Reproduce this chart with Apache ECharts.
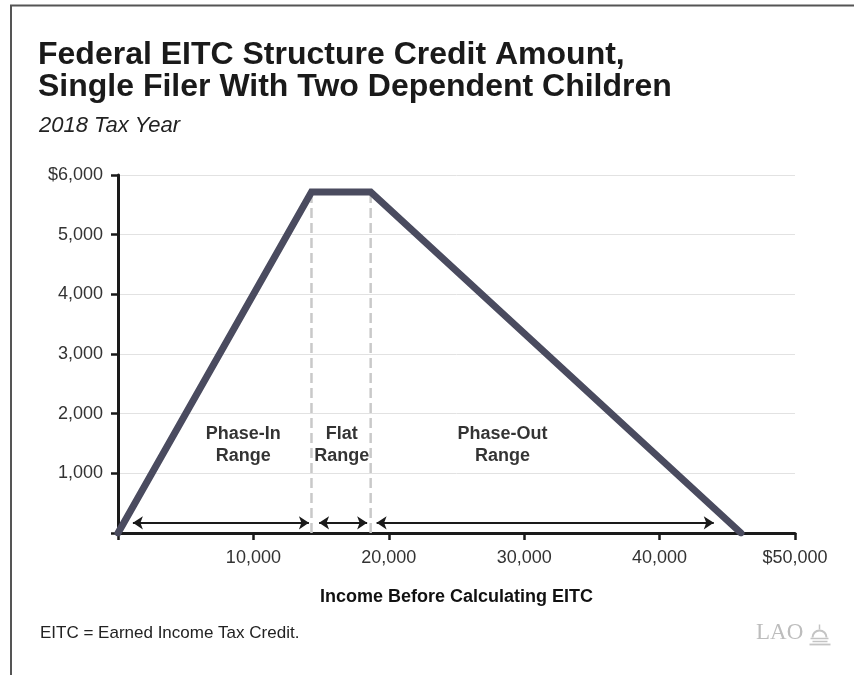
<!DOCTYPE html>
<html>
<head>
<meta charset="utf-8">
<script src="https://cdn.jsdelivr.net/npm/echarts@6/dist/echarts.min.js"></script>
<style>
  html, body { margin: 0; padding: 0; background: #fff; }
  #chart { width: 854px; height: 675px; }
</style>
</head>
<body>
<div id="chart"></div>
<script>
// EITC schedule, single filer with two children, 2018
const incomePoints = [0, 14290, 18660, 46010];
const creditPoints = [0, 5716, 5716, 0];

// Boundaries between the phase-in, flat and phase-out ranges
const rangeBreaks = [14290, 18660];

// Double-headed arrows spanning each range [fromX, toX, y]
const arrowFrom = [1100, 14850, 19100];
const arrowTo = [14100, 18400, 44000];
const arrowY = [170, 170, 170];

// Range labels
const rangeLabels = ['Phase-In\nRange', 'Flat\nRange', 'Phase-Out\nRange'];
const rangeLabelX = [9250, 16530, 28400];
const rangeLabelY = [1480, 1480, 1480];

// Axis ticks
const xTicks = [0, 10000, 20000, 30000, 40000, 50000];
const yTicks = [0, 1000, 2000, 3000, 4000, 5000, 6000];

const FONT = '"Liberation Sans", Arial, Helvetica, sans-serif';
const fmt = v => v.toLocaleString('en-US');

const chart = echarts.init(document.getElementById('chart'));

const option = {
  backgroundColor: '#ffffff',
  animation: false,
  textStyle: { fontFamily: FONT },
  title: [
    {
      text: 'Federal EITC Structure Credit Amount,\nSingle Filer With Two Dependent Children',
      left: 33, top: 34,
      textStyle: { fontFamily: FONT, fontSize: 32, fontWeight: 'bold', color: '#1a1a1a', lineHeight: 32 }
    },
    {
      text: '2018 Tax Year',
      left: 34, top: 110,
      textStyle: { fontFamily: FONT, fontSize: 22, fontStyle: 'italic', fontWeight: 'normal', color: '#222' }
    }
  ],
  grid: { left: 118, right: 59, top: 175, bottom: 142, containLabel: false },
  xAxis: {
    type: 'value',
    min: xTicks[0], max: xTicks[xTicks.length - 1], interval: 10000,
    name: 'Income Before Calculating EITC',
    nameLocation: 'middle', nameGap: 55,
    nameTextStyle: { fontFamily: FONT, fontSize: 18, fontWeight: 'bold', color: '#111' },
    axisLine: { lineStyle: { color: '#1a1a1a', width: 3 } },
    axisTick: { show: true, length: 7, lineStyle: { color: '#1a1a1a', width: 2.5 } },
    axisLabel: {
      margin: 16, fontSize: 18, color: '#333', fontFamily: FONT,
      formatter: v => v === 0 ? '' : (v === xTicks[xTicks.length - 1] ? '$' + fmt(v) : fmt(v))
    },
    splitLine: { show: false }
  },
  yAxis: {
    type: 'value',
    min: yTicks[0], max: yTicks[yTicks.length - 1], interval: 1000,
    axisLine: { show: true, lineStyle: { color: '#1a1a1a', width: 3 } },
    axisTick: { show: true, length: 7, lineStyle: { color: '#1a1a1a', width: 2.5 } },
    axisLabel: {
      margin: 15, fontSize: 18, color: '#333', fontFamily: FONT,
      formatter: v => v === 0 ? '' : (v === yTicks[yTicks.length - 1] ? '$' + fmt(v) : fmt(v))
    },
    splitLine: { show: true, lineStyle: { color: '#e2e2e2', width: 1 } }
  },
  series: [
    // dashed range boundaries
    ...rangeBreaks.map(x => ({
      type: 'line',
      data: [[x, 0], [x, creditPoints[1]]],
      symbol: 'none',
      silent: true,
      z: 1,
      lineStyle: { color: '#c9c9c9', width: 2.5, type: [10, 5] }
    })),
    // credit schedule
    {
      type: 'line',
      data: incomePoints.map((x, i) => [x, creditPoints[i]]),
      symbol: 'none',
      z: 5,
      lineStyle: { color: '#4a4b5f', width: 7, cap: 'round', join: 'miter' }
    },
    // range arrows
    {
      type: 'lines',
      coordinateSystem: 'cartesian2d',
      symbol: ['arrow', 'arrow'],
      symbolSize: [10, 10],
      z: 3,
      lineStyle: { color: '#1a1a1a', width: 2, opacity: 1 },
      data: arrowFrom.map((x, i) => ({ coords: [[x, arrowY[i]], [arrowTo[i], arrowY[i]]] }))
    },
    // range labels
    {
      type: 'scatter',
      symbolSize: 0,
      silent: true,
      z: 4,
      data: rangeLabelX.map((x, i) => ({ value: [x, rangeLabelY[i]], name: rangeLabels[i] })),
      label: {
        show: true, position: 'inside',
        formatter: p => p.name,
        fontFamily: FONT, fontSize: 18, fontWeight: 'bold', color: '#000',
        lineHeight: 22, align: 'center', verticalAlign: 'middle'
      }
    }
  ],
  graphic: [
    // frame on the top and left edges
    {
      type: 'polyline', silent: true,
      shape: { points: [[11, 675], [11, 5.5], [854, 5.5]] },
      style: { stroke: '#555', lineWidth: 2, fill: null }
    },
    {
      type: 'text', left: 40, top: 625, silent: true,
      style: { text: 'EITC = Earned Income Tax Credit.', font: '17px ' + FONT, fill: '#222' }
    },
    {
      type: 'text', left: 756, top: 621, silent: true,
      style: { text: 'LAO', font: '23px "Liberation Serif", "DejaVu Serif", serif', fill: '#bdbdbd' }
    },
    // small capitol dome beside the logo text
    {
      type: 'group', left: 807, top: 622, silent: true,
      children: [
        { type: 'line', shape: { x1: 10, y1: 0, x2: 10, y2: 5 }, style: { stroke: '#c4c4c4', lineWidth: 1.5 } },
        { type: 'arc', shape: { cx: 10, cy: 13, r: 7, startAngle: Math.PI, endAngle: 2 * Math.PI }, style: { stroke: '#c4c4c4', lineWidth: 2, fill: null } },
        { type: 'line', shape: { x1: 1, y1: 14, x2: 19, y2: 14 }, style: { stroke: '#c4c4c4', lineWidth: 1.5 } },
        { type: 'line', shape: { x1: 3, y1: 17, x2: 18, y2: 17 }, style: { stroke: '#c4c4c4', lineWidth: 1.5 } },
        { type: 'line', shape: { x1: 0, y1: 20, x2: 21, y2: 20 }, style: { stroke: '#c4c4c4', lineWidth: 1.8 } }
      ]
    }
  ]
};

chart.setOption(option);
</script>
</body>
</html>
